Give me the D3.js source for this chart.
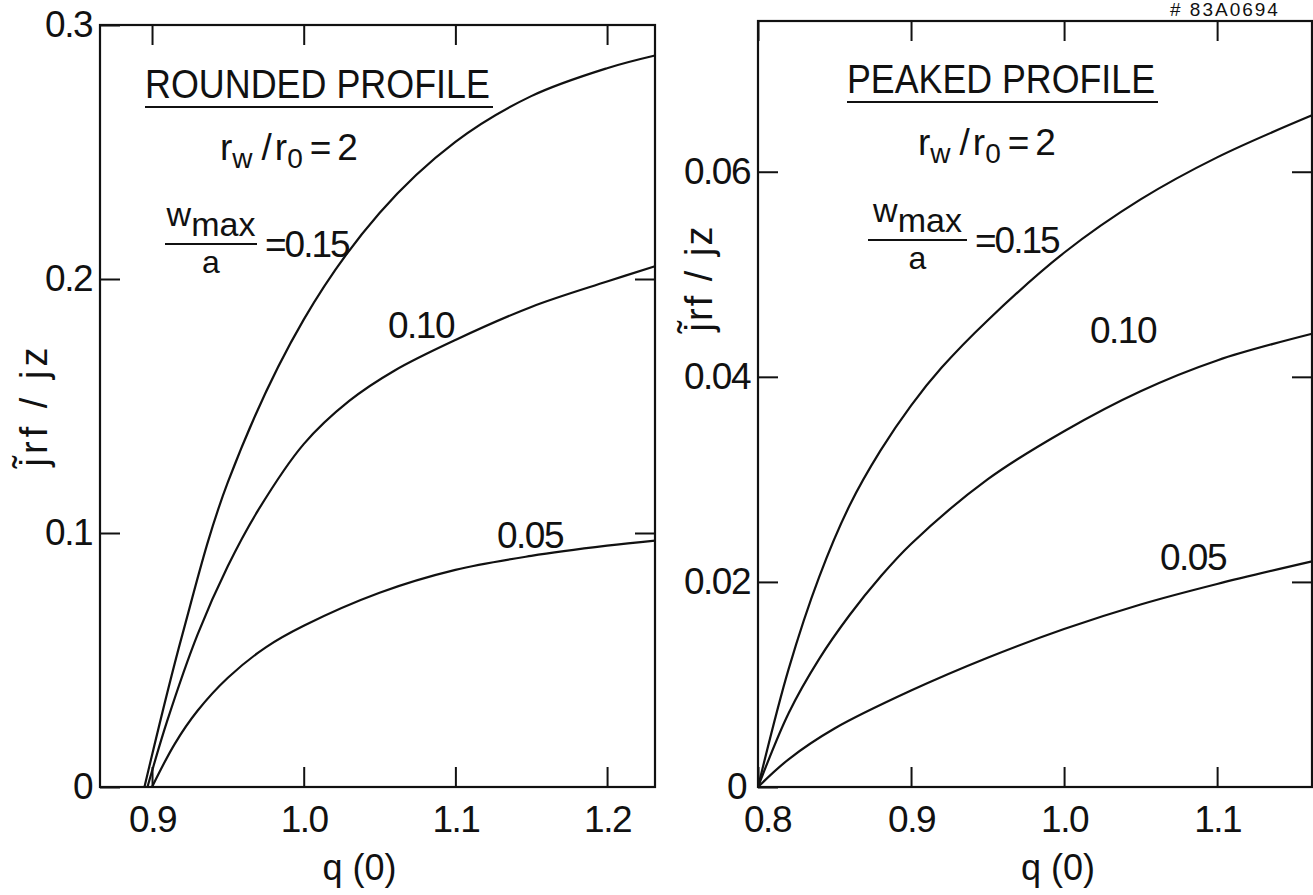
<!DOCTYPE html>
<html>
<head>
<meta charset="utf-8">
<script src="https://cdn.jsdelivr.net/npm/d3@7"></script>
<style>
  html, body { margin: 0; padding: 0; background: #fff; }
  svg { display: block; }
  text { font-family: "Liberation Sans", "DejaVu Sans", sans-serif; fill: #111; }
</style>
</head>
<body>
<svg id="chart" width="1313" height="895"></svg>
<script>
// ---- axis ticks and labels ----
const roundedXTicks = [0.9, 1.0, 1.1, 1.2];
const roundedXLabels = ["0.9", "1.0", "1.1", "1.2"];
const roundedYTicks = [0, 0.1, 0.2, 0.3];
const roundedYLabels = ["0", "0.1", "0.2", "0.3"];

const peakedXTicks = [0.8, 0.9, 1.0, 1.1];
const peakedXLabels = ["0.8", "0.9", "1.0", "1.1"];
const peakedYTicks = [0, 0.02, 0.04, 0.06];
const peakedYLabels = ["0", "0.02", "0.04", "0.06"];

// ---- curves: [q(0), j_rf / j_z] for each w_max/a ----
const rounded15 = [[0.895, 0], [0.92, 0.06], [0.95, 0.12], [1.0, 0.184], [1.05, 0.226],
                   [1.1, 0.254], [1.15, 0.272], [1.2, 0.283], [1.2316, 0.288]];
const rounded10 = [[0.897, 0], [0.91, 0.026], [0.93, 0.06], [0.95, 0.087], [0.97, 0.109],
                   [1.0, 0.135], [1.03, 0.152], [1.06, 0.164], [1.1, 0.176], [1.15, 0.189],
                   [1.2, 0.199], [1.2316, 0.205]];
const rounded05 = [[0.90, 0], [0.915, 0.017], [0.93, 0.03], [0.95, 0.043], [0.975, 0.055],
                   [1.0, 0.0635], [1.05, 0.0765], [1.1, 0.0855], [1.15, 0.091], [1.2, 0.095],
                   [1.2316, 0.097]];

const peaked15 = [[0.8, 0], [0.82, 0.0115], [0.84, 0.0205], [0.86, 0.0275], [0.88, 0.0328],
                  [0.9, 0.0372], [0.92, 0.0409], [0.95, 0.0455], [1.0, 0.0521], [1.05, 0.0573],
                  [1.1, 0.0614], [1.162, 0.0655]];
const peaked10 = [[0.8, 0], [0.82, 0.0072], [0.84, 0.0125], [0.86, 0.0168], [0.88, 0.0205],
                  [0.9, 0.0237], [0.95, 0.0300], [1.0, 0.0347], [1.05, 0.0386], [1.1, 0.0416],
                  [1.162, 0.0442]];
const peaked05 = [[0.8, 0], [0.82, 0.0027], [0.85, 0.0057], [0.9, 0.0094], [0.95, 0.0126],
                  [1.0, 0.0154], [1.05, 0.0178], [1.1, 0.0198], [1.162, 0.022]];

const svg = d3.select("#chart");
const INK = "#111";

// one framed panel with inward ticks on all four sides
function drawPanel(cfg) {
  const x = d3.scaleLinear().domain(cfg.xDomain).range([cfg.left, cfg.right]);
  const y = d3.scaleLinear().domain(cfg.yDomain).range([cfg.bottom, cfg.top]);
  const g = svg.append("g");

  const fmt = (ticks, labels) => v => labels[ticks.indexOf(v)];

  const bottom = g.append("g").attr("transform", `translate(0,${cfg.bottom})`)
    .call(d3.axisBottom(x).tickValues(cfg.xTicks).tickFormat(fmt(cfg.xTicks, cfg.xLabels))
      .tickSizeInner(-20).tickSizeOuter(0).tickPadding(19));
  const left = g.append("g").attr("transform", `translate(${cfg.left},0)`)
    .call(d3.axisLeft(y).tickValues(cfg.yTicks).tickFormat(fmt(cfg.yTicks, cfg.yLabels))
      .tickSizeInner(-20).tickSizeOuter(0).tickPadding(8));
  const top = g.append("g").attr("transform", `translate(0,${cfg.top})`)
    .call(d3.axisTop(x).tickValues(cfg.xTicks).tickFormat("").tickSizeInner(-20).tickSizeOuter(0));
  const right = g.append("g").attr("transform", `translate(${cfg.right},0)`)
    .call(d3.axisRight(y).tickValues(cfg.yTicks.filter(v => v > 0 && v < cfg.yDomain[1]))
      .tickFormat("").tickSizeInner(-20).tickSizeOuter(0));

  [bottom, left, top, right].forEach(a => {
    a.select(".domain").remove();
    a.selectAll(".tick line").attr("stroke", INK).attr("stroke-width", 2);
    a.selectAll(".tick text").attr("font-size", 37).attr("letter-spacing", -1.5)
      .attr("font-family", '"Liberation Sans", sans-serif').attr("fill", INK);
  });
  bottom.selectAll(".tick text").attr("dy", "0.71em");

  // the first x label sits just right of the origin, clear of the "0" on the y axis
  if (cfg.shiftFirstX) {
    bottom.selectAll(".tick text").filter(d => d === cfg.xTicks[0]).attr("dx", cfg.shiftFirstX);
    left.selectAll(".tick text").filter(d => d === 0).attr("dx", -4);
  }

  g.append("rect")
    .attr("x", cfg.left).attr("y", cfg.top)
    .attr("width", cfg.right - cfg.left).attr("height", cfg.bottom - cfg.top)
    .attr("fill", "none").attr("stroke", INK).attr("stroke-width", 2.2);

  const line = d3.line().x(d => x(d[0])).y(d => y(d[1])).curve(d3.curveCatmullRom.alpha(0.5));
  cfg.series.forEach(s => {
    g.append("path").datum(s).attr("d", line)
      .attr("fill", "none").attr("stroke", INK).attr("stroke-width", 2.2);
  });

  // axis titles
  g.append("text").attr("x", (cfg.left + cfg.right) / 2 + cfg.xTitleShift).attr("y", 880)
    .attr("text-anchor", "middle").attr("font-size", 36).text("q (0)");

  const yt = g.append("text")
    .attr("transform", `translate(${cfg.yTitleX},${cfg.yTitleY}) rotate(-90)`)
    .attr("text-anchor", "middle").attr("font-size", 38).attr("letter-spacing", cfg.yTitleSpacing);
  yt.append("tspan").text("j\u0303");
  yt.append("tspan").text("rf / j");
  yt.append("tspan").text("z");

  return { g, x, y };
}

// panel header: underlined profile name, wall ratio and width ratio
function drawHeader(g, h) {
  g.append("text").attr("x", h.titleX).attr("y", h.titleY)
    .attr("font-size", 41).attr("textLength", h.titleW).attr("lengthAdjust", "spacingAndGlyphs")
    .text(h.title);
  g.append("line").attr("x1", h.titleX).attr("x2", h.titleX + h.titleW + 3)
    .attr("y1", h.titleY + 9).attr("y2", h.titleY + 9)
    .attr("stroke", INK).attr("stroke-width", 2.2);

  // r_w / r_0 = 2
  const r = g.append("text").attr("x", h.rX).attr("y", h.rY).attr("font-size", 37);
  r.append("tspan").text("r");
  r.append("tspan").attr("font-size", 28).attr("dy", 8).text("w");
  r.append("tspan").attr("dy", -8).attr("dx", 9).text("/");
  r.append("tspan").attr("dx", 3).text("r");
  r.append("tspan").attr("font-size", 28).attr("dy", 8).text("0");
  r.append("tspan").attr("dy", -8).attr("dx", 7).text("=");
  r.append("tspan").attr("dx", 6).text("2");

  // w_max / a = 0.15
  const fx = h.fracX, fy = h.fracY, fw = h.fracW;
  const num = g.append("text").attr("x", fx + fw / 2).attr("y", fy - 8)
    .attr("text-anchor", "middle").attr("font-size", 34);
  num.append("tspan").attr("dy", -10).text("w");
  num.append("tspan").attr("dy", 10).text("max");
  g.append("line").attr("x1", fx).attr("x2", fx + fw).attr("y1", fy).attr("y2", fy)
    .attr("stroke", INK).attr("stroke-width", 2.2);
  g.append("text").attr("x", fx + fw / 2).attr("y", fy + 29)
    .attr("text-anchor", "middle").attr("font-size", 32).text("a");
  g.append("text").attr("x", fx + fw + 8).attr("y", fy + 13)
    .attr("font-size", 37).attr("letter-spacing", -2).text("=0.15");
}

function curveLabel(g, x, yb, s) {
  g.append("text").attr("x", x).attr("y", yb).attr("font-size", 37)
    .attr("letter-spacing", -1.5).text(s);
}

// ---- left panel: rounded profile ----
const L = drawPanel({
  left: 100, right: 655, top: 25, bottom: 787,
  xDomain: [0.8657, 1.2316], yDomain: [0, 0.3],
  xTicks: roundedXTicks, xLabels: roundedXLabels,
  yTicks: roundedYTicks, yLabels: roundedYLabels,
  series: [rounded15, rounded10, rounded05],
  xTitleShift: -18, yTitleX: 47, yTitleY: 405, yTitleSpacing: 4
});
drawHeader(L.g, {
  title: "ROUNDED PROFILE", titleX: 145, titleY: 98, titleW: 345,
  rX: 220, rY: 160, fracX: 165, fracY: 244, fracW: 92
});
curveLabel(L.g, 388, 338, "0.10");
curveLabel(L.g, 497, 548, "0.05");

// ---- right panel: peaked profile ----
const R = drawPanel({
  left: 758, right: 1312, top: 21, bottom: 787,
  xDomain: [0.8, 1.162], yDomain: [0, 0.0747],
  xTicks: peakedXTicks, xLabels: peakedXLabels,
  yTicks: peakedYTicks, yLabels: peakedYLabels,
  series: [peaked15, peaked10, peaked05],
  xTitleShift: 23, yTitleX: 712, yTitleY: 278, yTitleSpacing: 2,
  shiftFirstX: 9
});
drawHeader(R.g, {
  title: "PEAKED PROFILE", titleX: 847, titleY: 93, titleW: 308,
  rX: 918, rY: 155, fracX: 868, fracY: 240, fracW: 99
});
curveLabel(R.g, 1090, 343, "0.10");
curveLabel(R.g, 1160, 570, "0.05");

// drawing number in the top corner
svg.append("text").attr("x", 1170).attr("y", 16).attr("font-size", 19)
  .attr("letter-spacing", 2).text("# 83A0694");
</script>
</body>
</html>
